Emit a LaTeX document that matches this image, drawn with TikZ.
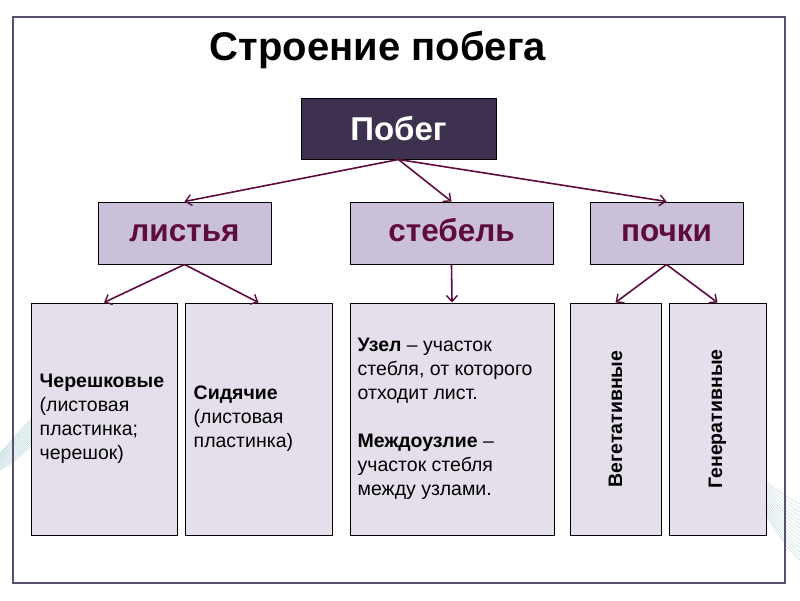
\documentclass[tikz,border=0pt]{standalone}
\usepackage{fontspec}
\setmainfont{Liberation Sans}
\usetikzlibrary{arrows.meta}
\definecolor{frameC}{HTML}{5B4D6E}
\definecolor{darkC}{HTML}{3E3150}
\definecolor{midC}{HTML}{CBC0DA}
\definecolor{lightC}{HTML}{E4DFEA}
\definecolor{plum}{HTML}{5E0B3F}
\definecolor{swoosh}{HTML}{7FB5C0}
\tikzset{
  rootbox/.style={draw=black, line width=1pt, fill=darkC, text=white, minimum width=195pt, minimum height=61pt, inner sep=0pt, text height=23.8pt, text depth=0pt, font=\fontsize{33}{36}\selectfont\bfseries},
  midbox/.style={draw=black, line width=1pt, fill=midC, text=plum, minimum height=62pt, inner sep=0pt, text height=16.6pt, text depth=0pt, font=\fontsize{31.5}{34}\selectfont\bfseries},
  lowbox/.style={draw=black, line width=1pt, fill=lightC, minimum height=232pt, inner sep=0pt},
  lowtext/.style={align=left, inner sep=0pt, font=\fontsize{19.5}{24}\selectfont},
  rottext/.style={rotate=90, inner sep=0pt, font=\fontsize{19.5}{22}\selectfont\bfseries},
  conn/.style={draw=plum, line width=1.6pt, -{Straight Barb[length=6pt,width=11pt,line width=1.4pt]}},
  sw/.style={draw=swoosh, line width=0.5pt, opacity=0.45}
}
\begin{document}
\begin{tikzpicture}[x=1pt,y=-1pt]
\useasboundingbox (0,0) rectangle (800,600);
\fill[white] (0,0) rectangle (800,600);
% decorative swooshes
\foreach \i in {0,...,14}{
  \draw[sw] (0,{470-\i*1.2}) .. controls (30,{455-\i*2.5}) and (50,{420-\i*2}) .. (75,{395+\i*0.4});
  \draw[sw] (800,{560-\i*4}) .. controls (780,{545-\i*3.5}) and (760,{500-\i*2}) .. (735,{470-\i*0.5});
}
% outer frame
\draw[frameC, line width=2.5pt] (13,17) rectangle (785,583);
% title
\node[font=\fontsize{40}{42}\selectfont\bfseries, text height=28.6pt, text depth=0pt, inner sep=0pt] (title) at (378,46) {Строение побега};
% nodes
\node[rootbox] (pobeg) at (398.5,128.5) {Побег};
\node[midbox, minimum width=173pt] (leaves) at (184.5,233) {листья};
\node[midbox, minimum width=203pt] (stem) at (451.5,233) {стебель};
\node[midbox, minimum width=153pt] (buds) at (666.5,233) {почки};
\node[lowbox, minimum width=146pt] (c1) at (104,419) {};
\node[lowbox, minimum width=147pt] (c2) at (258.5,419) {};
\node[lowbox, minimum width=204pt] (c3) at (452,419) {};
\node[lowbox, minimum width=91pt] (c4) at (615.5,419) {};
\node[lowbox, minimum width=97pt] (c5) at (717.5,419) {};
% texts
\node[lowtext, anchor=west] (t1) at ([xshift=9pt]c1.west) {\textbf{Черешковые}\\(листовая\\пластинка;\\черешок)};
\node[lowtext, anchor=west] (t2) at ([xshift=9pt]c2.west) {\textbf{Сидячие}\\(листовая\\пластинка)};
\node[lowtext, anchor=west] (t3) at ([xshift=8pt]c3.west) {\textbf{Узел} – участок\\стебля, от которого\\отходит лист.\\[24pt]\textbf{Междоузлие} –\\участок стебля\\между узлами.};
\node[rottext] (t4) at (c4.center) {Вегетативные};
\node[rottext] (t5) at (c5.center) {Генеративные};
% connectors
\draw[conn] (pobeg.south) -- (leaves.north);
\draw[conn] (pobeg.south) -- (stem.north);
\draw[conn] (pobeg.south) -- (buds.north);
\draw[conn] (leaves.south) -- (c1.north);
\draw[conn] (leaves.south) -- (c2.north);
\draw[conn] (stem.south) -- (c3.north);
\draw[conn] (buds.south) -- (c4.north);
\draw[conn] (buds.south) -- (c5.north);
\end{tikzpicture}
\end{document}
